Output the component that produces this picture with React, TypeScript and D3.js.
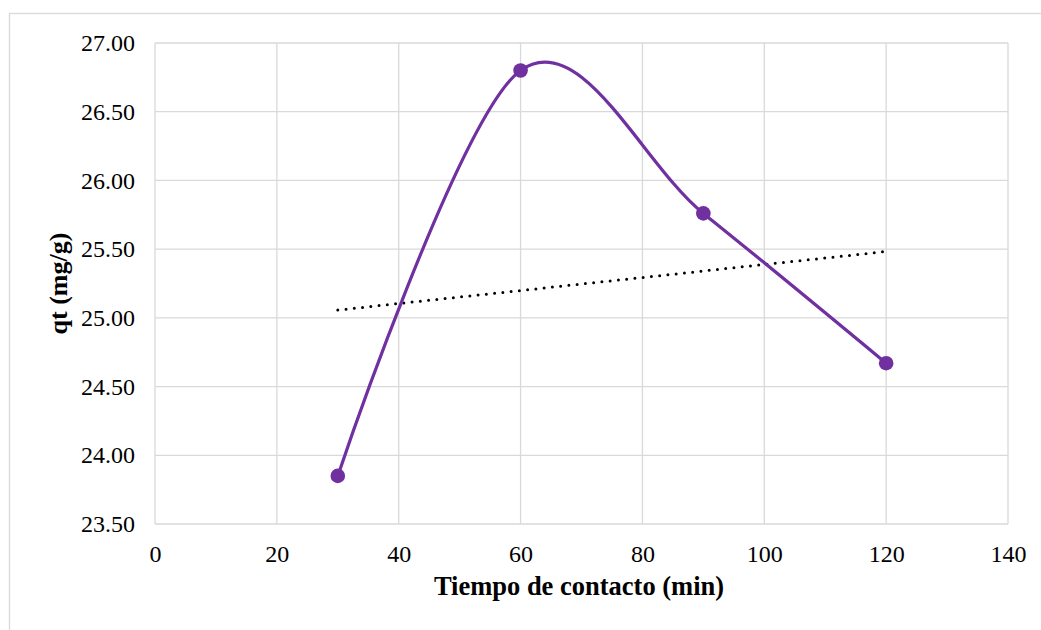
import React, { useEffect, useRef } from 'react';
import * as d3 from 'd3';

// tiempo de contacto (min) vs qt (mg/g)
const tiempos = [30, 60, 90, 120];
const qt = [23.85, 26.8, 25.76, 24.67];
const xTicks = [0, 20, 40, 60, 80, 100, 120, 140];
const yTicks = [23.5, 24.0, 24.5, 25.0, 25.5, 26.0, 26.5, 27.0];

const FONT = "'Liberation Serif', 'Tinos', 'DejaVu Serif', serif";
const PURPLE = '#7030A0';
const GRID = '#D9D9D9';

export default function App() {
  const ref = useRef<SVGSVGElement>(null);

  useEffect(() => {
    const svg = d3.select(ref.current);
    svg.selectAll('*').remove();
    const width = 1041;
    const height = 630;
    const m = { left: 155, top: 43, right: 1008, bottom: 524 };

    svg.attr('width', width).attr('height', height).style('font-family', FONT);

    // chart frame (runs past the picture edge)
    svg
      .append('rect')
      .attr('x', 9.5)
      .attr('y', 13.5)
      .attr('width', width + 20)
      .attr('height', height + 20)
      .attr('fill', '#fff')
      .attr('stroke', GRID)
      .attr('stroke-width', 1.3);

    const x = d3.scaleLinear().domain([0, 140]).range([m.left, m.right]);
    const y = d3.scaleLinear().domain([23.5, 27]).range([m.bottom, m.top]);

    const grid = svg.append('g').attr('stroke', GRID).attr('stroke-width', 1.3);
    grid
      .selectAll('line.h')
      .data(yTicks)
      .join('line')
      .attr('x1', m.left)
      .attr('x2', m.right)
      .attr('y1', (d) => y(d))
      .attr('y2', (d) => y(d));
    grid
      .selectAll('line.v')
      .data(xTicks)
      .join('line')
      .attr('x1', (d) => x(d))
      .attr('x2', (d) => x(d))
      .attr('y1', m.top)
      .attr('y2', m.bottom);

    const xAxis = d3.axisBottom(x).tickValues(xTicks).tickSize(0).tickPadding(21);
    const yAxis = d3
      .axisLeft(y)
      .tickValues(yTicks)
      .tickSize(0)
      .tickPadding(20)
      .tickFormat(d3.format('.2f'));

    const gx = svg.append('g').attr('transform', `translate(0,${m.bottom})`).call(xAxis);
    const gy = svg.append('g').attr('transform', `translate(${m.left},0)`).call(yAxis);
    [gx, gy].forEach((g) => {
      g.attr('font-family', null).attr('font-size', null);
      g.select('.domain').remove();
      g.selectAll('text')
        .style('font-family', FONT)
        .attr('font-size', 24)
        .attr('fill', '#000');
    });
    gx.selectAll('text').attr('dy', '0.71em');

    // smoothed series
    const pts = tiempos.map((t, i) => [t, qt[i]] as [number, number]);
    const line = d3
      .line<[number, number]>()
      .x((d) => x(d[0]))
      .y((d) => y(d[1]))
      .curve(d3.curveCardinal.tension(0));

    // linear trendline from the same data
    const reg = (() => {
      const mx = d3.mean(tiempos) as number;
      const my = d3.mean(qt) as number;
      const sxy = d3.sum(tiempos, (t, i) => (t - mx) * (qt[i] - my));
      const sxx = d3.sum(tiempos, (t) => (t - mx) ** 2);
      const b = sxy / sxx;
      return (t: number) => my + b * (t - mx);
    })();
    const xExt = d3.extent(tiempos) as [number, number];
    svg
      .append('line')
      .attr('x1', x(xExt[0]))
      .attr('y1', y(reg(xExt[0])))
      .attr('x2', x(xExt[1]))
      .attr('y2', y(reg(xExt[1])))
      .attr('stroke', '#000')
      .attr('stroke-width', 3)
      .attr('stroke-linecap', 'round')
      .attr('stroke-dasharray', '0 8.3');

    svg
      .append('path')
      .datum(pts)
      .attr('fill', 'none')
      .attr('stroke', PURPLE)
      .attr('stroke-width', 3.2)
      .attr('d', line);

    svg
      .append('g')
      .selectAll('circle')
      .data(pts)
      .join('circle')
      .attr('cx', (d) => x(d[0]))
      .attr('cy', (d) => y(d[1]))
      .attr('r', 7.3)
      .attr('fill', PURPLE);

    svg
      .append('text')
      .attr('x', 579)
      .attr('y', 595)
      .attr('text-anchor', 'middle')
      .style('font-family', FONT)
      .attr('font-weight', 'bold')
      .attr('font-size', 26.5)
      .text('Tiempo de contacto (min)');

    svg
      .append('text')
      .attr('transform', `translate(67,${(m.top + m.bottom) / 2}) rotate(-90)`)
      .attr('text-anchor', 'middle')
      .style('font-family', FONT)
      .attr('font-weight', 'bold')
      .attr('font-size', 26)
      .text('qt (mg/g)');
  }, []);

  return <svg ref={ref} style={{ position: 'absolute', left: 0, top: 0 }}></svg>;
}
